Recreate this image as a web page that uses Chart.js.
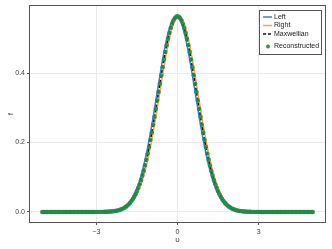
<!DOCTYPE html>
<html>
<head>
<meta charset="utf-8">
<script src="https://cdn.jsdelivr.net/npm/chart.js@4.4.1/dist/chart.umd.min.js"></script>
<style>
  html, body { margin: 0; padding: 0; background: #fff; }
  #wrap { width: 332px; height: 249px; }
</style>
</head>
<body>
<div id="wrap"><canvas id="chart" width="332" height="249"></canvas></div>
<script>
// velocity grid (step 0.05)
const vGrid = [
  -5,-4.95,-4.9,-4.85,-4.8,-4.75,-4.7,-4.65,-4.6,-4.55,
  -4.5,-4.45,-4.4,-4.35,-4.3,-4.25,-4.2,-4.15,-4.1,-4.05,
  -4,-3.95,-3.9,-3.85,-3.8,-3.75,-3.7,-3.65,-3.6,-3.55,
  -3.5,-3.45,-3.4,-3.35,-3.3,-3.25,-3.2,-3.15,-3.1,-3.05,
  -3,-2.95,-2.9,-2.85,-2.8,-2.75,-2.7,-2.65,-2.6,-2.55,
  -2.5,-2.45,-2.4,-2.35,-2.3,-2.25,-2.2,-2.15,-2.1,-2.05,
  -2,-1.95,-1.9,-1.85,-1.8,-1.75,-1.7,-1.65,-1.6,-1.55,
  -1.5,-1.45,-1.4,-1.35,-1.3,-1.25,-1.2,-1.15,-1.1,-1.05,
  -1,-0.95,-0.9,-0.85,-0.8,-0.75,-0.7,-0.65,-0.6,-0.55,
  -0.5,-0.45,-0.4,-0.35,-0.3,-0.25,-0.2,-0.15,-0.1,-0.05,
  0,
  0.05,0.1,0.15,0.2,0.25,0.3,0.35,0.4,0.45,0.5,
  0.55,0.6,0.65,0.7,0.75,0.8,0.85,0.9,0.95,1,
  1.05,1.1,1.15,1.2,1.25,1.3,1.35,1.4,1.45,1.5,
  1.55,1.6,1.65,1.7,1.75,1.8,1.85,1.9,1.95,2,
  2.05,2.1,2.15,2.2,2.25,2.3,2.35,2.4,2.45,2.5,
  2.55,2.6,2.65,2.7,2.75,2.8,2.85,2.9,2.95,3,
  3.05,3.1,3.15,3.2,3.25,3.3,3.35,3.4,3.45,3.5,
  3.55,3.6,3.65,3.7,3.75,3.8,3.85,3.9,3.95,4,
  4.05,4.1,4.15,4.2,4.25,4.3,4.35,4.4,4.45,4.5,
  4.55,4.6,4.65,4.7,4.75,4.8,4.85,4.9,4.95,5
];

const maxwellian = [
  0,0,0,0,0,0,0,0,0,0,
  0,0,0,0,0,0,0,0,0,0,
  0,0,0,0,0,0,0,0,0,0,
  0,0,0,0,0,0,0,0,0,0,
  0.0001,0.0001,0.0001,0.0002,0.0002,0.0003,0.0004,0.0005,0.0007,0.0008,
  0.0011,0.0014,0.0018,0.0023,0.0028,0.0036,0.0045,0.0055,0.0069,0.0084,
  0.0103,0.0126,0.0153,0.0184,0.0221,0.0264,0.0314,0.0371,0.0436,0.0510,
  0.0595,0.0689,0.0795,0.0912,0.1041,0.1183,0.1337,0.1503,0.1682,0.1873,
  0.2076,0.2288,0.2510,0.2739,0.2975,0.3215,0.3456,0.3698,0.3936,0.4169,
  0.4394,0.4608,0.4808,0.4991,0.5156,0.5300,0.5421,0.5516,0.5586,0.5628,
  0.5642,
  0.5628,0.5586,0.5516,0.5421,0.5300,0.5156,0.4991,0.4808,0.4608,0.4394,
  0.4169,0.3936,0.3698,0.3456,0.3215,0.2975,0.2739,0.2510,0.2288,0.2076,
  0.1873,0.1682,0.1503,0.1337,0.1183,0.1041,0.0912,0.0795,0.0689,0.0595,
  0.0510,0.0436,0.0371,0.0314,0.0264,0.0221,0.0184,0.0153,0.0126,0.0103,
  0.0084,0.0069,0.0055,0.0045,0.0036,0.0028,0.0023,0.0018,0.0014,0.0011,
  0.0008,0.0007,0.0005,0.0004,0.0003,0.0002,0.0002,0.0001,0.0001,0.0001,
  0,0,0,0,0,0,0,0,0,0,
  0,0,0,0,0,0,0,0,0,0,
  0,0,0,0,0,0,0,0,0,0,
  0,0,0,0,0,0,0,0,0,0
];

// left state, peak slightly below zero
const leftF = [
  0,0,0,0,0,0,0,0,0,0,
  0,0,0,0,0,0,0,0,0,0,
  0,0,0,0,0,0,0,0,0,0,
  0,0,0,0,0,0,0,0,0,
  0.0001,0.0001,0.0001,0.0002,0.0002,0.0003,0.0004,0.0005,0.0007,0.0008,
  0.0011,0.0014,0.0018,0.0023,0.0028,0.0036,0.0045,0.0055,0.0069,0.0084,
  0.0103,0.0126,0.0153,0.0184,0.0221,0.0264,0.0314,0.0371,0.0436,0.0510,
  0.0595,0.0689,0.0795,0.0912,0.1041,0.1183,0.1337,0.1503,0.1682,0.1873,
  0.2076,0.2288,0.2510,0.2739,0.2975,0.3215,0.3456,0.3698,0.3936,0.4169,
  0.4394,0.4608,0.4808,0.4991,0.5156,0.5300,0.5421,0.5516,0.5586,0.5628,
  0.5642,
  0.5628,0.5586,0.5516,0.5421,0.5300,0.5156,0.4991,0.4808,0.4608,0.4394,
  0.4169,0.3936,0.3698,0.3456,0.3215,0.2975,0.2739,0.2510,0.2288,0.2076,
  0.1873,0.1682,0.1503,0.1337,0.1183,0.1041,0.0912,0.0795,0.0689,0.0595,
  0.0510,0.0436,0.0371,0.0314,0.0264,0.0221,0.0184,0.0153,0.0126,0.0103,
  0.0084,0.0069,0.0055,0.0045,0.0036,0.0028,0.0023,0.0018,0.0014,0.0011,
  0.0008,0.0007,0.0005,0.0004,0.0003,0.0002,0.0002,0.0001,0.0001,0.0001,
  0,0,0,0,0,0,0,0,0,0,
  0,0,0,0,0,0,0,0,0,0,
  0,0,0,0,0,0,0,0,0,0,
  0,0,0,0,0,0,0,0,0,0,
  0
];

// right state, peak slightly above zero
const rightF = [
  0,0,0,0,0,0,0,0,0,0,
  0,0,0,0,0,0,0,0,0,0,
  0,0,0,0,0,0,0,0,0,0,
  0,0,0,0,0,0,0,0,0,0,
  0,
  0.0001,0.0001,0.0001,0.0002,0.0002,0.0003,0.0004,0.0005,0.0007,0.0008,
  0.0011,0.0014,0.0018,0.0023,0.0028,0.0036,0.0045,0.0055,0.0069,0.0084,
  0.0103,0.0126,0.0153,0.0184,0.0221,0.0264,0.0314,0.0371,0.0436,0.0510,
  0.0595,0.0689,0.0795,0.0912,0.1041,0.1183,0.1337,0.1503,0.1682,0.1873,
  0.2076,0.2288,0.2510,0.2739,0.2975,0.3215,0.3456,0.3698,0.3936,0.4169,
  0.4394,0.4608,0.4808,0.4991,0.5156,0.5300,0.5421,0.5516,0.5586,0.5628,
  0.5642,
  0.5628,0.5586,0.5516,0.5421,0.5300,0.5156,0.4991,0.4808,0.4608,0.4394,
  0.4169,0.3936,0.3698,0.3456,0.3215,0.2975,0.2739,0.2510,0.2288,0.2076,
  0.1873,0.1682,0.1503,0.1337,0.1183,0.1041,0.0912,0.0795,0.0689,0.0595,
  0.0510,0.0436,0.0371,0.0314,0.0264,0.0221,0.0184,0.0153,0.0126,0.0103,
  0.0084,0.0069,0.0055,0.0045,0.0036,0.0028,0.0023,0.0018,0.0014,0.0011,
  0.0008,0.0007,0.0005,0.0004,0.0003,0.0002,0.0002,0.0001,0.0001,0.0001,
  0,0,0,0,0,0,0,0,0,0,
  0,0,0,0,0,0,0,0,0,0,
  0,0,0,0,0,0,0,0,0,0,
  0,0,0,0,0,0,0,0,0
];

// reconstructed sits on the maxwellian
const reconstructed = maxwellian.slice();

const xTicks = [-3, 0, 3];
const yTicks = [0, 0.2, 0.4];

const toPoints = arr => vGrid.map((v, i) => ({ x: v, y: arr[i] }));

const FONT = 'Liberation Sans, Arial, sans-serif';
const TEXT = '#444';
const FRAME = '#555';

// frame around the plot area
const framePlugin = {
  id: 'frame',
  afterDatasetsDraw(chart) {
    const { ctx, chartArea: a } = chart;
    ctx.save();
    ctx.strokeStyle = FRAME;
    ctx.lineWidth = 1;
    ctx.strokeRect(Math.round(a.left) - 0.5, Math.round(a.top) - 0.5,
      Math.round(a.right - a.left) + 1, Math.round(a.bottom - a.top) + 1);
    ctx.restore();
  }
};

// boxed legend in the top right corner
const legendPlugin = {
  id: 'boxLegend',
  afterDraw(chart) {
    const ctx = chart.ctx;
    const box = { x: 259.5, y: 10.5, w: 62, h: 44 };
    const rows = [17, 25.5, 34, 46.5];
    ctx.save();
    ctx.fillStyle = '#fff';
    ctx.fillRect(box.x, box.y, box.w, box.h);
    ctx.strokeStyle = FRAME;
    ctx.lineWidth = 1;
    ctx.strokeRect(box.x, box.y, box.w, box.h);
    ctx.font = '7px ' + FONT;
    ctx.textBaseline = 'middle';
    ctx.textAlign = 'left';
    chart.data.datasets.forEach((ds, i) => {
      const y = rows[i];
      if (ds.showLine === false) {
        ctx.fillStyle = ds.backgroundColor;
        ctx.beginPath();
        ctx.arc(268, y, 2, 0, Math.PI * 2);
        ctx.fill();
      } else {
        ctx.strokeStyle = ds.borderColor;
        ctx.lineWidth = ds.borderWidth;
        ctx.setLineDash(ds.borderDash || []);
        ctx.beginPath();
        ctx.moveTo(263, y);
        ctx.lineTo(272, y);
        ctx.stroke();
        ctx.setLineDash([]);
      }
      ctx.fillStyle = '#222';
      ctx.fillText(ds.label, 274, y);
    });
    ctx.restore();
  }
};

new Chart(document.getElementById('chart'), {
  type: 'line',
  data: {
    datasets: [
      { label: 'Left', data: toPoints(leftF), borderColor: '#3a80d0', borderWidth: 1.5,
        pointRadius: 0, tension: 0, order: 3 },
      { label: 'Right', data: toPoints(rightF), borderColor: '#f2a541', borderWidth: 1.5,
        pointRadius: 0, tension: 0, order: 2 },
      { label: 'Maxwellian', data: toPoints(maxwellian), borderColor: '#111', borderWidth: 1.5,
        borderDash: [3, 2], pointRadius: 0, tension: 0, order: 1 },
      { label: 'Reconstructed', data: toPoints(reconstructed), showLine: false,
        backgroundColor: 'rgba(34,137,72,0.9)', borderWidth: 0, pointRadius: 2.2, order: 0 }
    ]
  },
  options: {
    responsive: false,
    animation: false,
    layout: { padding: { top: 6, right: 7, left: 0, bottom: 0 } },
    plugins: { legend: { display: false }, tooltip: { enabled: false } },
    scales: {
      x: {
        type: 'linear',
        min: -5.45,
        max: 5.45,
        afterFit: s => { s.height = 27; },
        afterBuildTicks: s => { s.ticks = xTicks.map(v => ({ value: v })); },
        border: { display: false },
        grid: { color: '#ebebeb', tickColor: FRAME, tickLength: 3, lineWidth: 1 },
        ticks: {
          padding: 3,
          color: TEXT,
          font: { family: FONT, size: 7 },
          maxRotation: 0,
          callback: v => String(v).replace('-', '\u2212')
        },
        title: { display: true, text: 'υ', color: TEXT, font: { family: FONT, size: 8 },
          padding: { top: 0, bottom: 4 } }
      },
      y: {
        min: -0.029,
        max: 0.593,
        afterFit: s => { s.width = 30; },
        afterBuildTicks: s => { s.ticks = yTicks.map(v => ({ value: v })); },
        border: { display: false },
        grid: { color: '#ebebeb', tickColor: FRAME, tickLength: 3, lineWidth: 1 },
        ticks: {
          padding: 2,
          color: TEXT,
          font: { family: FONT, size: 7 },
          callback: v => v.toFixed(1)
        },
        title: { display: true, text: 'f', color: TEXT, font: { family: FONT, size: 8 },
          padding: { top: 6, bottom: 0 } }
      }
    }
  },
  plugins: [framePlugin, legendPlugin]
});
</script>
</body>
</html>
